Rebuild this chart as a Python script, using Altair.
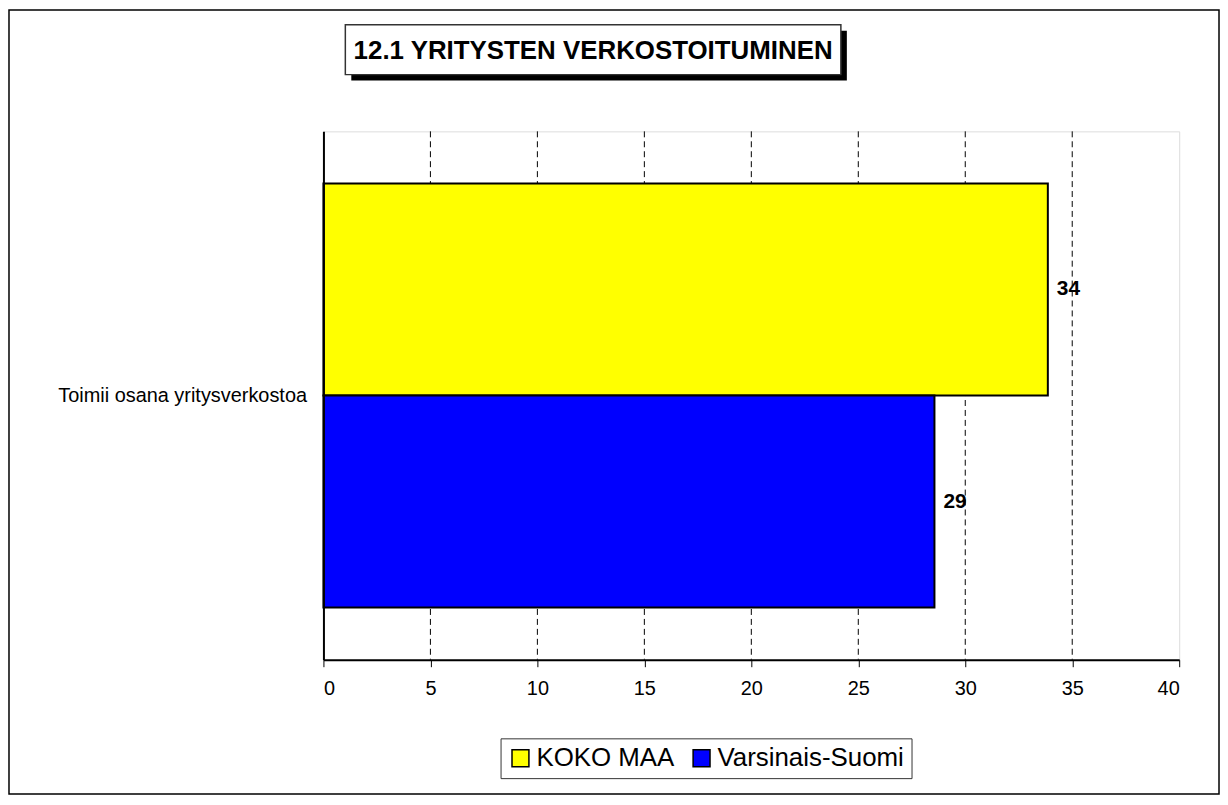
import altair as alt
import pandas as pd

categories = ["Toimii osana yritysverkostoa"]
series = ["KOKO MAA", "Varsinais-Suomi"]
values = [33.86, 28.56]
value_labels = ["34", "29"]
colors = ["#FFFF00", "#0000FF"]
x_ticks = [0, 5, 10, 15, 20, 25, 30, 35, 40]
grid_values = [5, 10, 15, 20, 25, 30, 35]
title_text = "12.1 YRITYSTEN VERKOSTOITUMINEN"

FONT = "Liberation Sans"
W, H = 860, 531
PL, PT = 317, 122
TOTAL_W, TOTAL_H = 1218, 789
PR = TOTAL_W - PL - W
PB = TOTAL_H - PT - H

df = pd.DataFrame({
    "cat": categories * len(series),
    "series": series,
    "value": values,
    "label": value_labels,
})
grid_df = pd.DataFrame({"g": grid_values})
one = pd.DataFrame({"d": [0]})

xscale = alt.Scale(domain=[0, 40], nice=False, zero=True)
yscale = alt.Scale(paddingOuter=0.123, paddingInner=0)
yoff_scale = alt.Scale(domain=series, paddingInner=0, paddingOuter=0)

# outer frame
frame = alt.Chart(one).mark_rect(fillOpacity=0, stroke="black", strokeWidth=1.5).encode(
    x=alt.value(-PL + 1), x2=alt.value(W + PR - 1),
    y=alt.value(-PT + 0), y2=alt.value(H + PB - 1),
)

grid = alt.Chart(grid_df).mark_rule(color="black", strokeDash=[6, 4], strokeWidth=1).encode(
    x=alt.X("g:Q", scale=xscale),
)

bars = alt.Chart(df).mark_bar(stroke="black", strokeWidth=2).encode(
    x=alt.X("value:Q", scale=xscale,
            axis=alt.Axis(values=x_ticks, title=None, grid=False, labelFontSize=20,
                          labelColor="black", tickColor="black", tickSize=7,
                          domainColor="black", domainWidth=2, labelPadding=12,
                          labelFont=FONT, zindex=1)),
    y=alt.Y("cat:N", scale=yscale,
            axis=alt.Axis(title=None, ticks=False, labelFontSize=20, labelColor="black",
                          labelPadding=17, labelLimit=500, domainColor="black",
                          domainWidth=2, labelFont=FONT, zindex=1)),
    yOffset=alt.YOffset("series:N", scale=yoff_scale, sort=series),
    color=alt.Color("series:N", scale=alt.Scale(domain=series, range=colors),
                    legend=alt.Legend(orient="none", legendX=178, legendY=610,
                                      direction="horizontal", title=None,
                                      symbolType="square", symbolSize=289,
                                      symbolStrokeColor="black", symbolStrokeWidth=1.5,
                                      labelFontSize=26, labelFont=FONT, labelColor="black",
                                      strokeColor="#333333", fillColor="white",
                                      padding=7, columnPadding=14, labelOffset=3,
                                      labelLimit=500)),
)

texts = alt.Chart(df).mark_text(align="left", baseline="middle", dx=9, fontSize=21,
                                fontWeight="bold", font=FONT, color="black").encode(
    x=alt.X("value:Q", scale=xscale),
    y=alt.Y("cat:N", scale=yscale),
    yOffset=alt.YOffset("series:N", scale=yoff_scale, sort=series),
    text="label:N",
)

shadow = alt.Chart(one).mark_rect(fill="black").encode(
    x=alt.value(28), x2=alt.value(526), y=alt.value(-101), y2=alt.value(-51),
)
title_box = alt.Chart(one).mark_rect(fill="white", stroke="#333333", strokeWidth=1.5).encode(
    x=alt.value(22), x2=alt.value(520), y=alt.value(-107), y2=alt.value(-57),
)
title = alt.Chart(one).mark_text(text=title_text, fontSize=26, fontWeight="bold", font=FONT,
                                 align="center", baseline="middle", color="black").encode(
    x=alt.value(271), y=alt.value(-81),
)

chart = alt.layer(frame, grid, bars, texts, shadow, title_box, title).properties(
    width=W, height=H,
    autosize=alt.AutoSizeParams(type="none"),
    padding={"left": PL, "top": PT, "right": PR, "bottom": PB},
).configure_view(
    stroke="#808080", strokeWidth=2
).configure(font=FONT)

chart.save("out.html", embed_options={"renderer": "svg", "actions": False})
